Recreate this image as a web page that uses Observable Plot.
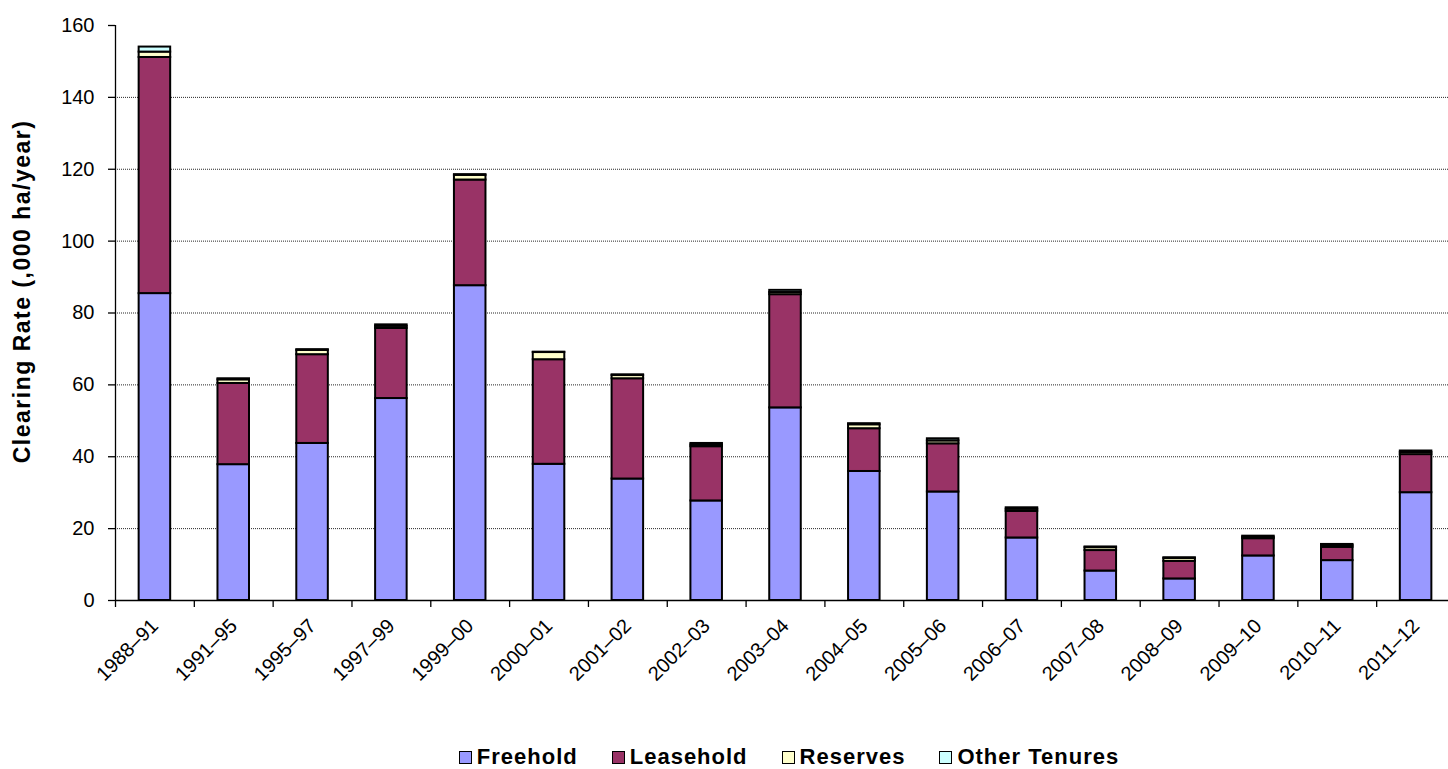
<!DOCTYPE html>
<html>
<head>
<meta charset="utf-8">
<script src="https://cdn.jsdelivr.net/npm/d3@7"></script>
<script src="https://cdn.jsdelivr.net/npm/@observablehq/plot@0.6"></script>
<style>
  html, body { margin: 0; padding: 0; background: #fff; overflow: hidden; }
  body { font-family: "Liberation Sans", Arial, sans-serif; }
  #chart svg { display: block; overflow: hidden; }
  #legend { display: flex; justify-content: center; align-items: center; gap: 34px;
    font-weight: bold; font-size: 22px; letter-spacing: 1px; height: 34px; padding-left: 130px; padding-top: 5px; }
  #legend .item { display: flex; align-items: center; gap: 5px; }
  #legend .sw { width: 11px; height: 11px; border: 1.5px solid #000; display: inline-block; }
</style>
</head>
<body>
<div id="chart"></div>
<div id="legend"></div>
<script>
const categories = ["1988–91","1991–95","1995–97","1997–99","1999–00","2000–01","2001–02","2002–03","2003–04","2004–05","2005–06","2006–07","2007–08","2008–09","2009–10","2010–11","2011–12"];
const tenures = ["Freehold", "Leasehold", "Reserves", "Other Tenures"];
const colors = ["#9999FF", "#993366", "#FFFFCC", "#CCFFFF"];
const freehold  = [85.4, 37.8, 43.7, 56.2, 87.6, 37.9, 33.8, 27.7, 53.6, 35.9, 30.2, 17.4, 8.2, 6.0, 12.4, 11.1, 30.0];
const leasehold = [65.7, 22.6, 24.7, 19.5, 29.4, 29.1, 27.9, 15.1, 31.5, 11.9, 13.4, 7.4, 5.7, 4.9, 4.8, 3.7, 10.6];
const reserves  = [1.5, 1.0, 1.2, 0.6, 1.3, 2.0, 0.9, 0.5, 0.6, 1.1, 0.8, 0.6, 0.8, 0.8, 0.4, 0.5, 0.6];
const other     = [1.4, 0.3, 0.2, 0.4, 0.2, 0.1, 0.2, 0.4, 0.6, 0.3, 0.6, 0.4, 0.2, 0.2, 0.3, 0.3, 0.4];
const yTicks = [0, 20, 40, 60, 80, 100, 120, 140, 160];
const gridTicks = [20, 40, 60, 80, 100, 120, 140];
const yLabel = "Clearing Rate (,000 ha/year)";

const series = [freehold, leasehold, reserves, other];
const data = categories.flatMap((c, i) => tenures.map((t, k) => ({period: c, tenure: t, value: series[k][i]})));

const W = 1448, H = 735, ML = 115, XR = 1455;
const step = (XR - ML) / categories.length;
const font = "Liberation Sans, Arial, sans-serif";

const chart = Plot.plot({
  width: W, height: H,
  marginLeft: ML, marginRight: 0, marginTop: 25, marginBottom: 135,
  style: {fontFamily: font, fontSize: "20px", color: "#000", background: "#fff"},
  x: {domain: categories, range: [ML, XR], round: false, paddingInner: 0.6, paddingOuter: 0.3, label: null},
  y: {domain: [0, 160], label: null},
  color: {domain: tenures, range: colors},
  marks: [
    Plot.ruleY(gridTicks, {stroke: "#000", strokeOpacity: 0.85, strokeDasharray: "1,1", strokeWidth: 1}),
    Plot.barY(data, Plot.stackY({x: "period", y: "value", fill: "tenure", order: tenures, stroke: "#000", strokeWidth: 2})),
    Plot.ruleX([categories[0]], {dx: -step / 2, stroke: "#000", strokeWidth: 1.3}),
    Plot.ruleY([0], {stroke: "#000", strokeWidth: 1.3}),
    Plot.ruleX(categories, {dx: -step / 2, y1: 0, y2: 0, insetBottom: -7, stroke: "#000", strokeWidth: 1.3}),
    Plot.axisY({ticks: yTicks, tickSize: 7, tickPadding: 14, fontSize: 20, label: null, stroke: "#000", strokeWidth: 1.3}),
    Plot.axisX({tickSize: 0, tickRotate: -45, tickPadding: 22, fontSize: 20, label: null, dx: 0}),
    Plot.text([yLabel], {frameAnchor: "left", y: [86], dx: -93, rotate: -90, fontSize: 23, fontWeight: "bold", textAnchor: "middle", lineAnchor: "middle"})
  ]
});
document.getElementById("chart").appendChild(chart);
d3.select(chart).selectAll("text").filter(function() { return d3.select(this).text() === yLabel; }).style("letter-spacing", "1.5px");

const legend = d3.select("#legend");
tenures.forEach((t, k) => {
  const it = legend.append("div").attr("class", "item");
  it.append("span").attr("class", "sw").style("background", colors[k]);
  it.append("span").text(t);
});
</script>
</body>
</html>
